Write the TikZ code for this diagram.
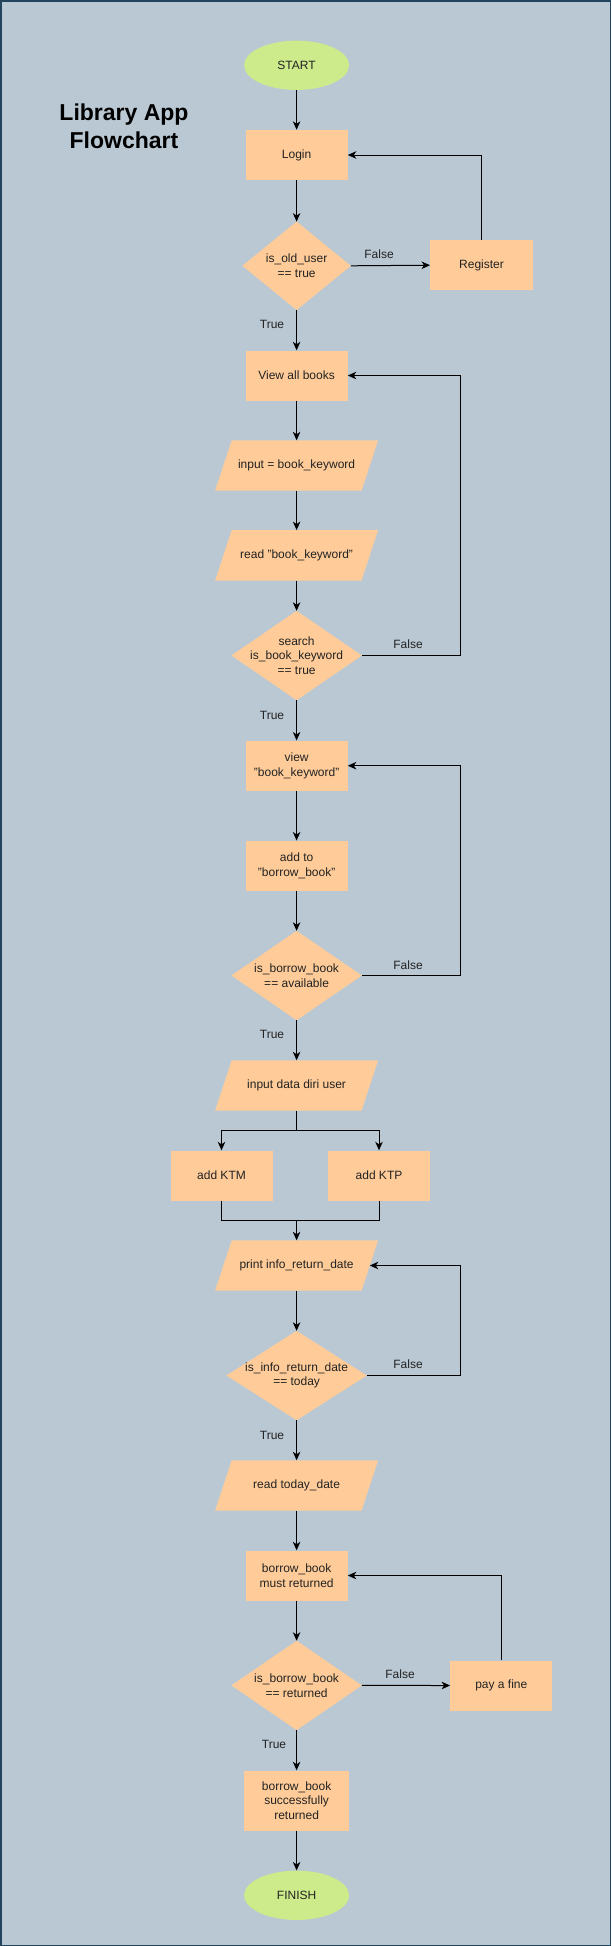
\documentclass[tikz,border=0pt]{standalone}
\usepackage{fontspec}
\setmainfont{Liberation Sans}
\usetikzlibrary{shapes.geometric,arrows.meta,calc}
\pgfdeclarelayer{back}\pgfdeclarelayer{bg}
\pgfsetlayers{back,bg,main}
\definecolor{bgc}{HTML}{BAC8D3}
\definecolor{bord}{HTML}{23445D}
\definecolor{orf}{HTML}{FFCC99}
\definecolor{grf}{HTML}{CDEB8B}
\definecolor{txt}{HTML}{222222}
\begin{document}
\begin{tikzpicture}[x=1pt,y=-1pt, font=\fontsize{12}{14.7}\selectfont, text=txt,
  base/.style={inner sep=0pt, align=center},
  box/.style={base, rectangle, fill=orf, minimum width=102pt, minimum height=50pt},
  dia/.style={base, rectangle, minimum height=89pt},
  para/.style={base, rectangle, minimum width=146pt, minimum height=50pt},
  term/.style={base, ellipse, fill=grf, minimum width=105pt, minimum height=49.3pt},
  arr/.style={draw=black, line width=1pt, -{Stealth[length=8.5pt,width=7.5pt,inset=2.5pt]}},
  ln/.style={draw=black, line width=1pt},
  lab/.style={inner sep=0pt}]
\begin{pgfonlayer}{back}
\fill[bgc] (0,0) rectangle (611,1946);
\draw[bord, line width=1.5pt] (0.75,0.75) rectangle (610.25,1945.25);
\end{pgfonlayer}
\useasboundingbox (0,0) rectangle (611,1946);

% title
\node[base, font=\fontsize{23}{28.3}\selectfont\bfseries, text=black] (title) at (124,126) {Library App\\Flowchart};

% nodes
\node[term] (start) at (296.6,65.3) {START};
\node[box] (login) at (296.6,155) {Login};
\node[dia, minimum width=108pt, minimum height=88pt] (olduser) at (296.6,265.8) {is\_old\_user\\== true};
\node[box, minimum width=102.5pt] (register) at (481.5,265.2) {Register};
\node[box] (viewall) at (296.6,375.5) {View all books};
\node[para] (inputkw) at (296.6,465.5) {input = book\_keyword};
\node[para] (readkw) at (296.6,555.3) {read "book\_keyword"};
\node[dia, minimum width=130pt] (search) at (296.6,655.5) {search\\is\_book\_keyword\\== true};
\node[box] (viewkw) at (296.6,765.7) {view\\"book\_keyword"};
\node[box] (addborrow) at (296.6,865.7) {add to\\"borrow\_book"};
\node[dia, minimum width=130pt] (avail) at (296.6,975.5) {is\_borrow\_book\\== available};
\node[para] (inputdata) at (296.6,1085.5) {input data diri user};
\node[box] (ktm) at (221.5,1175.5) {add KTM};
\node[box] (ktp) at (379,1175.5) {add KTP};
\node[para] (print) at (296.6,1265.5) {print info\_return\_date};
\node[dia, minimum width=140pt] (today) at (296.6,1375.5) {is\_info\_return\_date\\== today};
\node[para] (readtoday) at (296.6,1485.5) {read today\_date};
\node[box] (must) at (296.6,1575.5) {borrow\_book\\must returned};
\node[dia, minimum width=130pt] (returned) at (296.6,1685.4) {is\_borrow\_book\\== returned};
\node[box] (fine) at (501.3,1685.5) {pay a fine};
\node[box, minimum width=105pt, minimum height=60pt] (success) at (296.6,1800.5) {borrow\_book\\successfully\\returned};
\node[term] (finish) at (296.6,1895.3) {FINISH};

% shape fills
\begin{pgfonlayer}{bg}
\foreach \n in {olduser,search,avail,today,returned}
  \fill[orf] (\n.north) -- (\n.east) -- (\n.south) -- (\n.west) -- cycle;
\foreach \n in {inputkw,readkw,inputdata,print,readtoday}
  \fill[orf] ($(\n.north west)+(8.3,0)$) -- ($(\n.north east)+(8.3,0)$)
     -- ($(\n.south east)+(-8.3,0)$) -- ($(\n.south west)+(-8.3,0)$) -- cycle;
\end{pgfonlayer}

% coordinates
\coordinate (c1) at (460.5,655.5);
\coordinate (c2) at (460.5,975.5);
\coordinate (c3) at (460.5,1375.5);
\coordinate (s) at (296.6,1130.3);
\coordinate (m) at (296.6,1220.3);
\coordinate (printr) at (369.8,1265.5);

% connectors
\draw[arr] (start.south) -- (login.north);
\draw[arr] (login.south) -- (olduser.north);
\draw[arr] (olduser.east) -- (register.west);
\draw[arr] (register.north) |- (login.east);
\draw[arr] (olduser.south) -- (viewall.north);
\draw[arr] (viewall.south) -- (inputkw.north);
\draw[arr] (inputkw.south) -- (readkw.north);
\draw[arr] (readkw.south) -- (search.north);
\draw[arr] (search.east) -- (c1) |- (viewall.east);
\draw[arr] (search.south) -- (viewkw.north);
\draw[arr] (viewkw.south) -- (addborrow.north);
\draw[arr] (addborrow.south) -- (avail.north);
\draw[arr] (avail.east) -- (c2) |- (viewkw.east);
\draw[arr] (avail.south) -- (inputdata.north);
\draw[ln] (inputdata.south) -- (s);
\draw[arr] (s) -| (ktm.north);
\draw[arr] (s) -| (ktp.north);
\draw[ln] (ktm.south) |- (m);
\draw[ln] (ktp.south) |- (m);
\draw[arr] (m) -- (print.north);
\draw[arr] (print.south) -- (today.north);
\draw[arr] (today.east) -- (c3) |- (printr);
\draw[arr] (today.south) -- (readtoday.north);
\draw[arr] (readtoday.south) -- (must.north);
\draw[arr] (must.south) -- (returned.north);
\draw[arr] (returned.east) -- (fine.west);
\draw[arr] (fine.north) |- (must.east);
\draw[arr] (returned.south) -- (success.north);
\draw[arr] (success.south) -- (finish.north);

% labels
\node[lab] (f1) at (379,254.7) {False};
\node[lab] (t1) at (272,324.3) {True};
\node[lab] (f2) at (408,644.3) {False};
\node[lab] (t2) at (272,715) {True};
\node[lab] (f3) at (408,965) {False};
\node[lab] (t3) at (272,1034.3) {True};
\node[lab] (f4) at (408,1364.3) {False};
\node[lab] (t4) at (272,1435) {True};
\node[lab] (f5) at (400,1674.3) {False};
\node[lab] (t5) at (274,1744.7) {True};
\end{tikzpicture}
\end{document}
